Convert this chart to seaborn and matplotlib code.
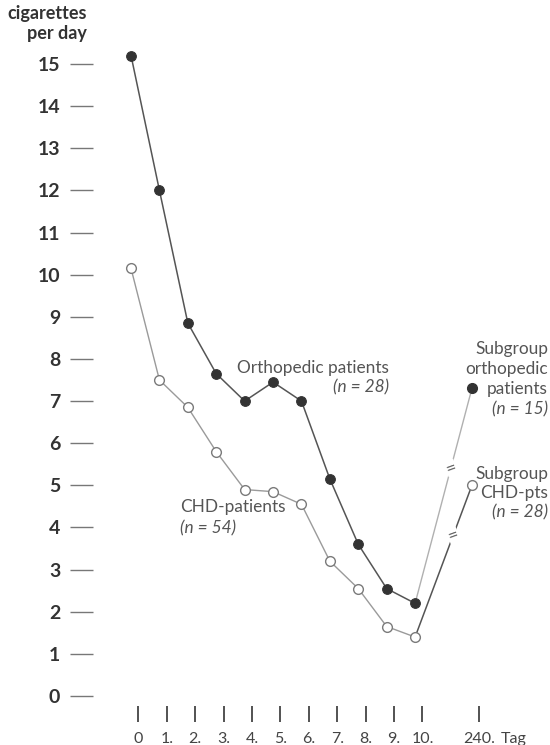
import numpy as np
import pandas as pd
import matplotlib
matplotlib.use("Agg")
import matplotlib.pyplot as plt
import seaborn as sns

# Daily cigarette consumption after admission (days 0-10) and at follow-up (day 240)
days = ["0", "1.", "2.", "3.", "4.", "5.", "6.", "7.", "8.", "9.", "10."]
day_pos = list(range(11))
followup_label = "240."
followup_pos = 12

ortho = [15.2, 12.0, 8.85, 7.65, 7.0, 7.45, 7.0, 5.15, 3.6, 2.55, 2.2]
ortho_240 = 7.3
chd = [10.15, 7.5, 6.85, 5.8, 4.9, 4.85, 4.55, 3.2, 2.55, 1.65, 1.4]
chd_240 = 5.0

y_ticks = list(range(0, 16))

sns.set_style("white")
plt.rcParams["font.family"] = ["Lato", "DejaVu Sans"]

fig = plt.figure(figsize=(5.5, 7.45), dpi=100)
ax = fig.add_axes([0.169, 0.0523, 0.813, 0.9207])

df_o = pd.DataFrame({"day": day_pos, "value": ortho})
df_c = pd.DataFrame({"day": day_pos, "value": chd})

# main courses
sns.lineplot(data=df_c, x="day", y="value", ax=ax, color="#9a9a9a", lw=1.0,
             marker="o", markersize=7, markerfacecolor="white",
             markeredgecolor="#7a7a7a", markeredgewidth=1.0, zorder=3)
sns.lineplot(data=df_o, x="day", y="value", ax=ax, color="#555555", lw=1.1,
             marker="o", markersize=7, markerfacecolor="#333333",
             markeredgecolor="#333333", zorder=4)

# connections to the follow-up subgroups
seg_o = pd.DataFrame({"day": [day_pos[-1], followup_pos], "value": [ortho[-1], ortho_240]})
seg_c = pd.DataFrame({"day": [day_pos[-1], followup_pos], "value": [chd[-1], chd_240]})
sns.lineplot(data=seg_o, x="day", y="value", ax=ax, color="#b0b0b0", lw=1.0, zorder=2)
sns.lineplot(data=seg_c, x="day", y="value", ax=ax, color="#555555", lw=1.1, zorder=2)
ax.plot([followup_pos], [ortho_240], "o", ms=7, color="#333333", zorder=5)
ax.plot([followup_pos], [chd_240], "o", ms=7, mfc="white", mec="#7a7a7a", mew=1.0, zorder=5)

# axis-break marks on the follow-up connections
for seg, frac in ((seg_o, 0.63), (seg_c, 0.67)):
    x0, x1 = seg["day"]
    y0, y1 = seg["value"]
    ax.text(x0 + frac * (x1 - x0), y0 + frac * (y1 - y0), "=", fontsize=13,
            color="#666666", rotation=20, ha="center", va="center", zorder=6,
            bbox=dict(boxstyle="square,pad=0.0", fc="white", ec="none"))

ax.set_xlim(-1.34, 14.4)
ax.set_ylim(-0.237, 16.04)
for s in ax.spines.values():
    s.set_visible(False)

ax.set_yticks(y_ticks)
ax.set_yticklabels([str(v) for v in y_ticks], fontsize=14, fontweight="bold", color="#333333")
ax.tick_params(axis="y", left=True, direction="out", length=16.5, width=1.0,
               color="#777777", pad=7)

ax.set_xticks([p + 0.26 for p in day_pos + [followup_pos]])
ax.set_xticklabels(days + [followup_label], fontsize=11.5, color="#444444")
ax.tick_params(axis="x", bottom=True, direction="out", length=11.5, width=1.3,
               color="#444444", pad=7)
ax.annotate("Tag", xy=(followup_pos + 0.26, 0), xycoords=("data", "axes fraction"),
            xytext=(15.5, -19), textcoords="offset points", fontsize=11.5,
            color="#444444", ha="left", va="top", annotation_clip=False)
ax.set_xlabel("")
ax.set_ylabel("")

fig.text(87 / 550, 1 - 14 / 745, "cigarettes", ha="right", va="center",
         fontsize=13, fontweight="bold", color="#333333")
fig.text(87 / 550, 1 - 33 / 745, "per day", ha="right", va="center",
         fontsize=13, fontweight="bold", color="#333333")

lab = dict(fontsize=12.4, color="#555555")
ax.annotate("Orthopedic patients", xy=(389 / 550, 1 - 368 / 745), xycoords="figure fraction",
            ha="right", va="center", **lab)
ax.annotate("(n = 28)", xy=(389 / 550, 1 - 387 / 745), xycoords="figure fraction",
            ha="right", va="center", style="italic", **lab)
ax.annotate("CHD-patients", xy=(180 / 550, 1 - 507 / 745), xycoords="figure fraction",
            ha="left", va="center", **lab)
ax.annotate("(n = 54)", xy=(180 / 550, 1 - 528 / 745), xycoords="figure fraction",
            ha="left", va="center", style="italic", **lab)

for i, (line, it) in enumerate([("Subgroup", False), ("orthopedic", False),
                                ("patients", False), ("(n = 15)", True)]):
    fig.text(548 / 550, 1 - (349 + 20 * i) / 745, line, ha="right", va="center",
             style="italic" if it else "normal", **lab)
for i, (line, it) in enumerate([("Subgroup", False), ("CHD-pts", False), ("(n = 28)", True)]):
    fig.text(548 / 550, 1 - (474 + 19 * i) / 745, line, ha="right", va="center",
             style="italic" if it else "normal", **lab)

fig.savefig("out.png", dpi=100, facecolor="white")
